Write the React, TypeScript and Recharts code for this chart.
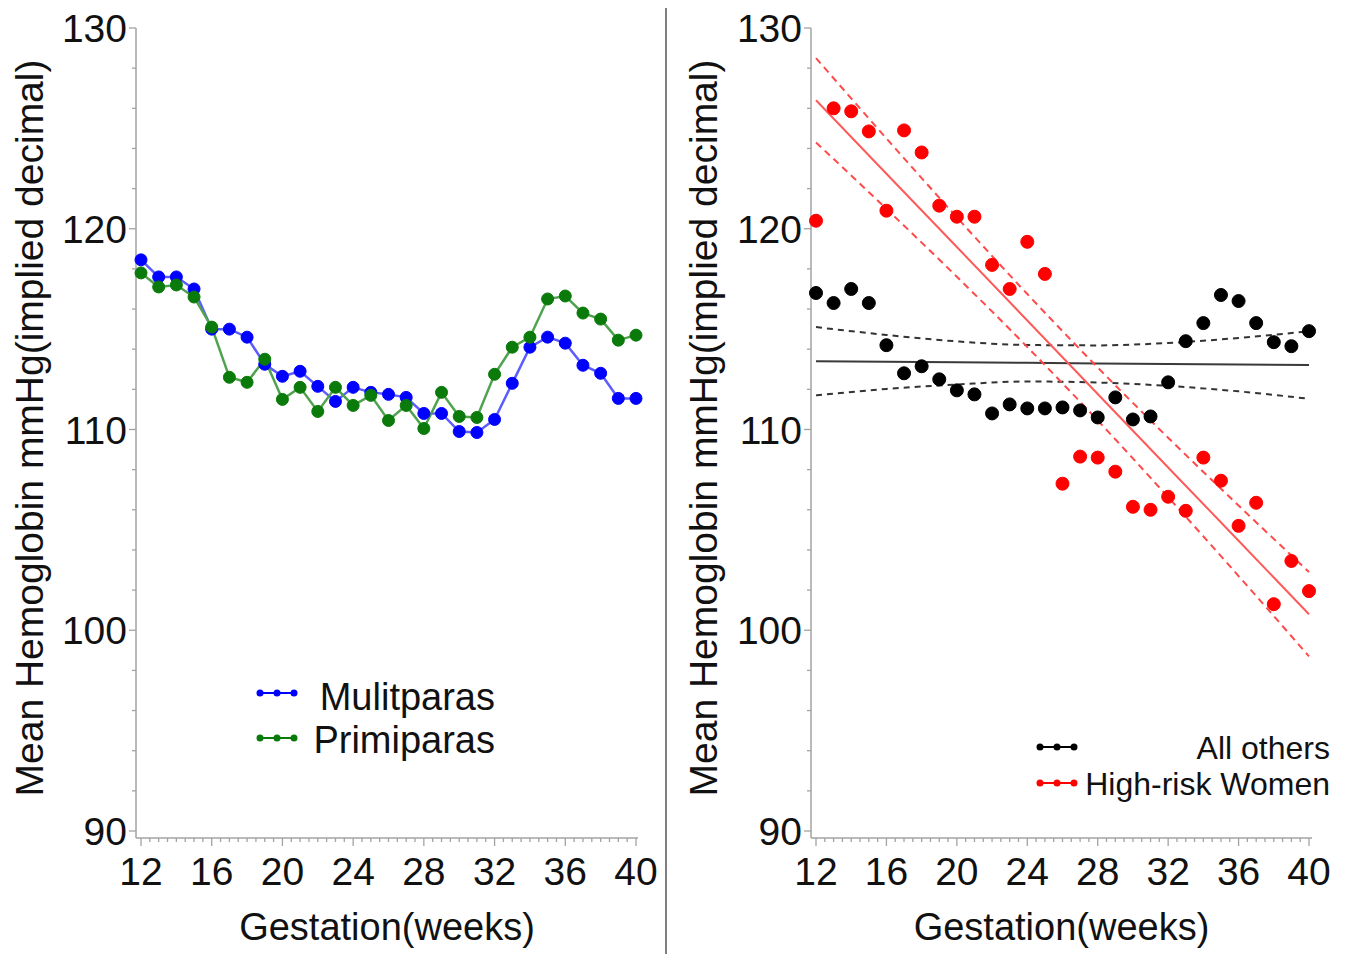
import React from 'react';
import { LineChart, ComposedChart, Line, XAxis, YAxis } from 'recharts';

// ---------- data ----------
const weeks = [12, 13, 14, 15, 16, 17, 18, 19, 20, 21, 22, 23, 24, 25, 26, 27, 28, 29, 30, 31, 32, 33, 34, 35, 36, 37, 38, 39, 40];

const multiparas = [118.45, 117.6, 117.6, 117.0, 115.0, 115.0, 114.6, 113.25, 112.65, 112.9, 112.15, 111.4, 112.1, 111.85, 111.75, 111.6, 110.8, 110.8, 109.9, 109.85, 110.5, 112.3, 114.1, 114.6, 114.3, 113.2, 112.8, 111.55, 111.55];
const primiparas = [117.8, 117.1, 117.2, 116.6, 115.1, 112.6, 112.35, 113.5, 111.5, 112.1, 110.9, 112.1, 111.2, 111.7, 110.45, 111.2, 110.05, 111.85, 110.65, 110.6, 112.75, 114.1, 114.6, 116.5, 116.65, 115.8, 115.5, 114.45, 114.7];

const allOthers = [116.8, 116.3, 117.0, 116.3, 114.2, 112.8, 113.15, 112.5, 111.95, 111.75, 110.8, 111.25, 111.05, 111.05, 111.1, 110.95, 110.6, 111.6, 110.5, 110.65, 112.35, 114.4, 115.3, 116.7, 116.4, 115.3, 114.35, 114.15, 114.9];
const highRisk = [120.4, 126.0, 125.85, 124.85, 120.9, 124.9, 123.8, 121.15, 120.6, 120.6, 118.2, 117.0, 119.35, 117.75, 107.3, 108.65, 108.6, 107.9, 106.15, 106.0, 106.65, 105.95, 108.6, 107.45, 105.2, 106.35, 101.3, 103.45, 101.95];

// fitted lines (read at sample weeks)
const fitWeeks = [12, 16, 20, 24, 28, 32, 36, 40];
const othersFit = [113.4, 113.37, 113.35, 113.32, 113.29, 113.26, 113.24, 113.21];
const othersUpper = [115.1, 114.71, 114.39, 114.21, 114.19, 114.31, 114.56, 114.89];
const othersLower = [111.7, 112.02, 112.24, 112.39, 112.34, 112.17, 111.9, 111.53];
const riskFit = [126.4, 122.74, 119.09, 115.43, 111.77, 108.11, 104.46, 100.8];
const riskUpper = [128.5, 124.5, 120.57, 116.75, 113.09, 109.59, 106.21, 102.9];
const riskLower = [124.3, 120.99, 117.61, 114.11, 110.45, 106.63, 102.7, 98.7];

const xTicks = [12, 12.5, 13, 13.5, 14, 14.5, 15, 15.5, 16, 16.5, 17, 17.5, 18, 18.5, 19, 19.5, 20, 20.5, 21, 21.5, 22, 22.5, 23, 23.5, 24, 24.5, 25, 25.5, 26, 26.5, 27, 27.5, 28, 28.5, 29, 29.5, 30, 30.5, 31, 31.5, 32, 32.5, 33, 33.5, 34, 34.5, 35, 35.5, 36, 36.5, 37, 37.5, 38, 38.5, 39, 39.5, 40];
const yTicks = [90, 92, 94, 96, 98, 100, 102, 104, 106, 108, 110, 112, 114, 116, 118, 120, 122, 124, 126, 128, 130];

const yLabelText = 'Mean Hemoglobin mmHg(implied decimal)';
const xLabelText = 'Gestation(weeks)';

const leftTable = weeks.map((w, i) => ({ week: w, multi: multiparas[i], primi: primiparas[i] }));
const rightTable = weeks.map((w, i) => {
  const k = fitWeeks.indexOf(w);
  return {
    week: w,
    others: allOthers[i],
    risk: highRisk[i],
    oFit: k >= 0 ? othersFit[k] : null,
    oUp: k >= 0 ? othersUpper[k] : null,
    oLo: k >= 0 ? othersLower[k] : null,
    rFit: k >= 0 ? riskFit[k] : null,
    rUp: k >= 0 ? riskUpper[k] : null,
    rLo: k >= 0 ? riskLower[k] : null,
  };
});

// ---------- styles ----------
const FONT = '"Liberation Sans", Arial, Helvetica, sans-serif';
const AXIS = '#a3a3a3';

const XTick = (props: any) => {
  const { x, y, payload } = props;
  const v = payload.value;
  const major = v % 4 === 0;
  return (
    <g>
      <line x1={x} x2={x} y1={y} y2={y + (major ? 8 : 4)} stroke={AXIS} strokeWidth={1.3} />
      {major && (
        <text x={x} y={y + 47} textAnchor="middle" fontSize={39} fontFamily={FONT} fill="#111">
          {v}
        </text>
      )}
    </g>
  );
};

const YTick = (props: any) => {
  const { x, y, payload } = props;
  const v = payload.value;
  const major = v % 10 === 0;
  return (
    <g>
      <line x1={x} x2={x - (major ? 7 : 4)} y1={y} y2={y} stroke={AXIS} strokeWidth={1.3} />
      {major && (
        <text x={x - 9} y={y + 14} textAnchor="end" fontSize={39} fontFamily={FONT} fill="#111">
          {v}
        </text>
      )}
    </g>
  );
};

const makeYLabel = (dx: number) => (props: any) => {
  const vb = props.viewBox || {};
  const cx = (vb.x || 0) + dx;
  const cy = (vb.y || 0) + (vb.height || 0) / 2 - 5;
  return (
    <text
      x={cx}
      y={cy}
      transform={`rotate(-90 ${cx} ${cy})`}
      textAnchor="middle"
      dominantBaseline="central"
      fontSize={39}
      fontFamily={FONT}
      fill="#111"
    >
      {yLabelText}
    </text>
  );
};

const xLabel = (props: any) => {
  const vb = props.viewBox || {};
  const cx = (vb.x || 0) + (vb.width || 0) / 2;
  const ty = (vb.y || 0) + 102;
  return (
    <text x={cx} y={ty} textAnchor="middle" fontSize={38} fontFamily={FONT} fill="#111">
      {xLabelText}
    </text>
  );
};

const LegendSample = ({ x, y, color }: { x: number; y: number; color: string }) => (
  <g>
    <line x1={x} x2={x + 38} y1={y} y2={y} stroke={color} strokeWidth={2} />
    <circle cx={x + 2} cy={y} r={3.5} fill={color} />
    <circle cx={x + 19} cy={y} r={3.5} fill={color} />
    <circle cx={x + 36} cy={y} r={3.5} fill={color} />
  </g>
);

export default function App() {
  return (
    <div style={{ position: 'absolute', left: 0, top: 0, width: 1350, height: 954, background: '#fff', overflow: 'hidden' }}>
      <div style={{ position: 'absolute', left: 0, top: 0 }}>
        <LineChart width={666} height={954} data={leftTable} margin={{ top: 28, right: 28, left: 0, bottom: 0 }}>
          <XAxis
            dataKey="week"
            type="number"
            domain={[12, 40]}
            ticks={xTicks}
            interval={0}
            padding={{ left: 5, right: 2 }}
            tickLine={false}
            tickSize={0}
            tickMargin={0}
            tick={<XTick />}
            axisLine={{ stroke: AXIS, strokeWidth: 1.5 }}
            height={116}
            label={xLabel}
          />
          <YAxis
            type="number"
            domain={[90, 130]}
            ticks={yTicks}
            interval={0}
            padding={{ top: 0, bottom: 7 }}
            tickLine={false}
            tickSize={0}
            tickMargin={0}
            tick={<YTick />}
            axisLine={{ stroke: AXIS, strokeWidth: 1.5 }}
            width={136}
            label={makeYLabel(29)}
          />
          <Line
            dataKey="multi"
            type="linear"
            stroke="#5c5cff"
            strokeWidth={2.5}
            dot={{ r: 6, fill: '#0000ff', stroke: '#0000ff', strokeWidth: 1 }}
            activeDot={false}
            isAnimationActive={false}
          />
          <Line
            dataKey="primi"
            type="linear"
            stroke="#4fa34f"
            strokeWidth={2.5}
            dot={{ r: 6, fill: '#0a7a0a', stroke: '#0a7a0a', strokeWidth: 1 }}
            activeDot={false}
            isAnimationActive={false}
          />
        </LineChart>
      </div>
      <div style={{ position: 'absolute', left: 666, top: 0 }}>
        <ComposedChart width={684} height={954} data={rightTable} margin={{ top: 28, right: 38, left: 0, bottom: 0 }}>
          <XAxis
            dataKey="week"
            type="number"
            domain={[12, 40]}
            ticks={xTicks}
            interval={0}
            padding={{ left: 5, right: 3 }}
            tickLine={false}
            tickSize={0}
            tickMargin={0}
            tick={<XTick />}
            axisLine={{ stroke: AXIS, strokeWidth: 1.5 }}
            height={116}
            label={xLabel}
          />
          <YAxis
            type="number"
            domain={[90, 130]}
            ticks={yTicks}
            interval={0}
            padding={{ top: 0, bottom: 7 }}
            tickLine={false}
            tickSize={0}
            tickMargin={0}
            tick={<YTick />}
            axisLine={{ stroke: AXIS, strokeWidth: 1.5 }}
            width={145}
            label={makeYLabel(37)}
          />
          <Line dataKey="oFit" type="linear" stroke="#3a3a3a" strokeWidth={2} dot={false} activeDot={false} connectNulls isAnimationActive={false} />
          <Line dataKey="oUp" type="monotone" stroke="#333" strokeWidth={2} strokeDasharray="6 5" dot={false} activeDot={false} connectNulls isAnimationActive={false} />
          <Line dataKey="oLo" type="monotone" stroke="#333" strokeWidth={2} strokeDasharray="6 5" dot={false} activeDot={false} connectNulls isAnimationActive={false} />
          <Line dataKey="others" stroke="none" dot={{ r: 6.5, fill: '#000', stroke: '#000', strokeWidth: 1 }} activeDot={false} isAnimationActive={false} />
          <Line dataKey="rFit" type="linear" stroke="#ff5a5a" strokeWidth={2} dot={false} activeDot={false} connectNulls isAnimationActive={false} />
          <Line dataKey="rUp" type="monotone" stroke="#ff4a4a" strokeWidth={2} strokeDasharray="7 5" dot={false} activeDot={false} connectNulls isAnimationActive={false} />
          <Line dataKey="rLo" type="monotone" stroke="#ff4a4a" strokeWidth={2} strokeDasharray="7 5" dot={false} activeDot={false} connectNulls isAnimationActive={false} />
          <Line dataKey="risk" stroke="none" dot={{ r: 6.5, fill: '#ff0000', stroke: '#ff0000', strokeWidth: 1 }} activeDot={false} isAnimationActive={false} />
        </ComposedChart>
      </div>
      <svg width={1350} height={954} style={{ position: 'absolute', left: 0, top: 0, pointerEvents: 'none' }}>
        <line x1={666} x2={666} y1={8} y2={954} stroke="#555" strokeWidth={1.5} />
        <LegendSample x={258} y={693} color="#0000ff" />
        <text x={495} y={710} textAnchor="end" fontSize={38} fontFamily={FONT} fill="#111">Mulitparas</text>
        <LegendSample x={258} y={738} color="#0a7a0a" />
        <text x={495} y={753} textAnchor="end" fontSize={38} fontFamily={FONT} fill="#111">Primiparas</text>
        <LegendSample x={1038} y={747} color="#000" />
        <text x={1330} y={759} textAnchor="end" fontSize={32} fontFamily={FONT} fill="#111">All others</text>
        <LegendSample x={1038} y={783} color="#ff0000" />
        <text x={1330} y={795} textAnchor="end" fontSize={32} fontFamily={FONT} fill="#111">High-risk Women</text>
      </svg>
    </div>
  );
}
